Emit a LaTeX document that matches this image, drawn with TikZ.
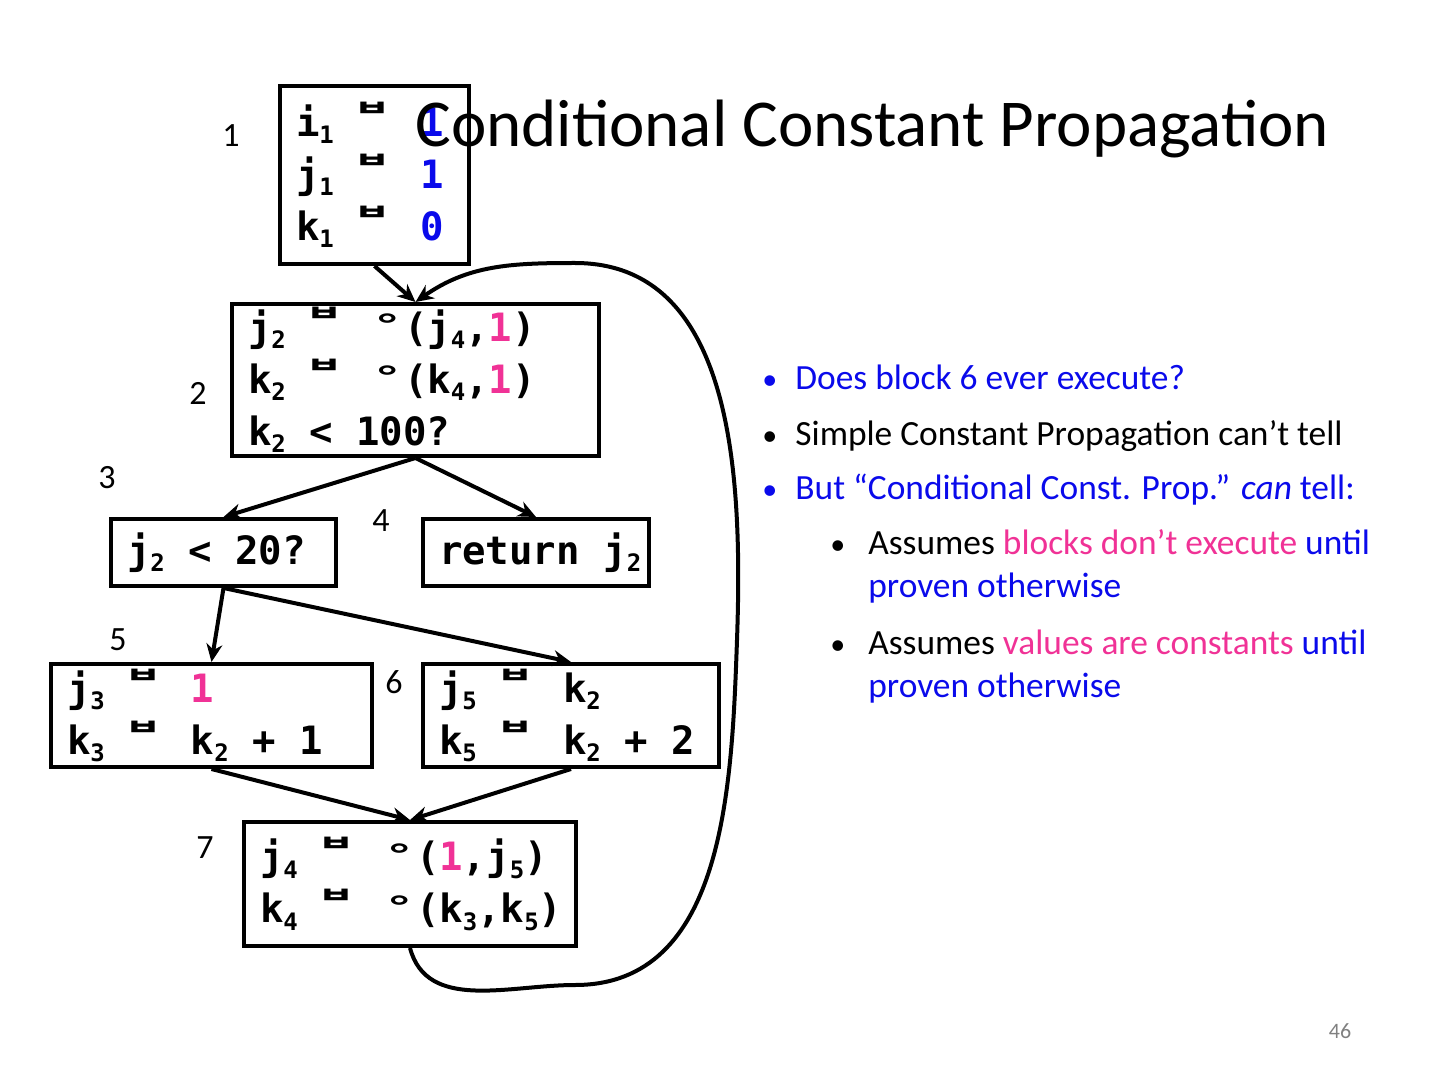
\documentclass[tikz,border=0pt]{standalone}
\usepackage{fontspec}
\setmainfont{Carlito}
\newfontfamily\codefont{DejaVu Sans Mono}
\newfontfamily\cjkfont{Noto Sans CJK KR}
\usetikzlibrary{arrows.meta}

\definecolor{bleu}{RGB}{10,10,235}
\definecolor{rose}{RGB}{240,50,150}

% code typesetting helpers
\newcommand\code{\codefont\bfseries\fontsize{19.5}{26}\selectfont}
\newcommand\ws{\hspace*{0.602em}}
\newcommand\sbs[1]{\raisebox{-0.35ex}{\fontsize{12}{12}\selectfont #1}}
\newcommand\asg{\raisebox{0.9ex}{\scalebox{1.5}[0.85]{\fontsize{13}{13}\selectfont\cjkfont ㅂ}}}
\newcommand\phs{\raisebox{0.25ex}{\scalebox{1.3}[0.75]{°}}}
\newcommand\nm[1]{\makebox[29pt][l]{#1}}
\newcommand\op[1]{\makebox[33pt][l]{#1}}
\newcommand\ph{\makebox[16pt][l]{\phs}}
\newcommand\bul{\fontsize{15}{15}\selectfont•}

\begin{document}
\begin{tikzpicture}[x=0.5pt,y=-0.5pt,
  blk/.style={draw,line width=2pt,inner xsep=8pt,inner ysep=0pt,align=left,
    anchor=north west,font=\code},
  num/.style={font=\fontsize{17}{17}\selectfont},
  item/.style={anchor=base west,inner sep=0pt,align=left,
    font=\fontsize{17.7}{21.5}\selectfont},
  edge/.style={line width=2pt,-{Stealth[length=9pt,width=8pt]}}]
\useasboundingbox (0,0) rectangle (1440,1080);

% blocks
\node[blk,text width=78.5pt,minimum height=89pt] (b1) at (278,84)
  {\nm{i\sbs1}\op{\asg}\textcolor{bleu}{1}\\
   \nm{j\sbs1}\op{\asg}\textcolor{bleu}{1}\\
   \nm{k\sbs1}\op{\asg}\textcolor{bleu}{0}};
\node[blk,text width=167.5pt,minimum height=76pt] (b2) at (230,302)
  {\nm{j\sbs2}\op{\asg}\ph(j\sbs4,\textcolor{rose}{1})\\
   \nm{k\sbs2}\op{\asg}\ph(k\sbs4,\textcolor{rose}{1})\\
   k\sbs2\ws<\ws100?};
\node[blk,text width=96.5pt,minimum height=33.5pt] (b3) at (109,517) {j\sbs2\ws<\ws20?};
\node[blk,text width=97pt,minimum height=33.5pt] (b4) at (421,517) {return\ws j\sbs2};
\node[blk,text width=144.5pt,minimum height=51.5pt] (b5) at (49,662)
  {\nm{j\sbs3}\op{\asg}\textcolor{rose}{1}\\
   \nm{k\sbs3}\op{\asg}k\sbs2\ws+\ws1};
\node[blk,text width=132pt,minimum height=51.5pt] (b6) at (421,662)
  {\nm{j\sbs5}\op{\asg}k\sbs2\\
   \nm{k\sbs5}\op{\asg}k\sbs2\ws+\ws2};
\node[blk,text width=150pt,minimum height=62pt] (b7) at (242,820)
  {\nm{j\sbs4}\op{\asg}\ph(\textcolor{rose}{1},j\sbs5)\\
   \nm{k\sbs4}\op{\asg}\ph(k\sbs3,k\sbs5)};

% block numbers
\node[num] (l1) at (231,136) {1};
\node[num] (l2) at (198,393) {2};
\node[num] (l3) at (107,478) {3};
\node[num] (l4) at (381,521) {4};
\node[num] (l5) at (118,640) {5};
\node[num] (l6) at (394,682) {6};
\node[num] (l7) at (205,848) {7};

% control flow
\draw[edge] (b1.south) -- (b2.north);
\draw[edge] (b2.south) -- (b3.north);
\draw[edge] (b2.south) -- (b4.north);
\draw[edge] (b3.south) -- (b5.north);
\draw[edge] (b3.south) -- (b6.north);
\draw[edge] (b5.south) -- (b7.north);
\draw[edge] (b6.south) -- (b7.north);
\draw[edge] (b7.south) to[out=-75,in=180] (575,985)
  to[out=0,in=-92] (737,640) to[out=88,in=0] (575,263)
  to[out=180,in=35] (b2.north);

% title and notes
\node[anchor=base west,inner sep=0pt,font=\fontsize{33.5}{33.5}\selectfont] (title)
  at (415,147) {Conditional Constant Propagation};
\node[item,text=bleu] (q1) at (762,390) {\makebox[16.5pt][l]{\bul}Does block 6 ever execute?};
\node[item] (q2) at (762,445) {\makebox[16.5pt][l]{\bul}Simple Constant Propagation can’t tell};
\node[item,text=bleu] (q3) at (762,499)
  {\makebox[16.5pt][l]{\bul}But “Conditional Const. Prop.” \textit{can} tell:};
\node[item] (q4) at (830,597)
  {\makebox[19pt][l]{\bul}Assumes \textcolor{rose}{blocks don’t execute} \textcolor{bleu}{until}\\
   \hspace*{19pt}\textcolor{bleu}{proven otherwise}};
\node[item] (q5) at (830,697)
  {\makebox[19pt][l]{\bul}Assumes \textcolor{rose}{values are constants} \textcolor{bleu}{until}\\
   \hspace*{19pt}\textcolor{bleu}{proven otherwise}};
\node[anchor=base,font=\fontsize{11}{11}\selectfont,text=gray] (page) at (1340,1038) {46};
\end{tikzpicture}
\end{document}
